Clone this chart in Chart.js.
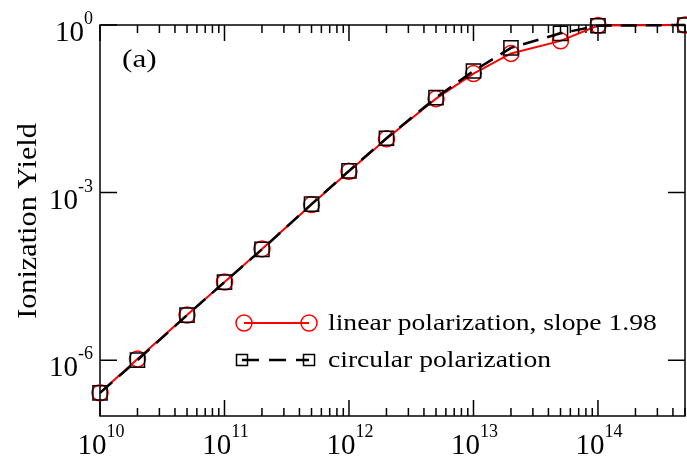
<!DOCTYPE html>
<html>
<head>
<meta charset="utf-8">
<script src="https://cdn.jsdelivr.net/npm/chart.js@4.4.0/dist/chart.umd.min.js"></script>
<style>
  html, body { margin: 0; padding: 0; background: #fff; }
</style>
</head>
<body>
<canvas id="yieldChart" width="687" height="458"></canvas>
<script>
// 雷射強度 (x) 與電離產率 (y)
const intensity = [1e10, 2e10, 5e10, 1e11, 2e11, 5e11, 1e12, 2e12, 5e12, 1e13, 2e13, 5e13, 1e14, 5e14];
const linearYield = [2.6e-7, 1.05e-6, 6.4e-6, 2.5e-5, 9.8e-5, 6.1e-4, 2.4e-3, 9.2e-3, 4.8e-2, 0.135, 0.31, 0.52, 0.98, 1.0];
const circularYield = [2.6e-7, 1.0e-6, 6.4e-6, 2.5e-5, 9.6e-5, 6.2e-4, 2.45e-3, 9.4e-3, 5.0e-2, 0.15, 0.39, 0.71, 0.97, 1.0];

const seriesNames = ['linear polarization, slope 1.98', 'circular polarization'];

// 刻度
const xMajorTicks = [1e10, 1e11, 1e12, 1e13, 1e14];
const xTickExp = ['10', '11', '12', '13', '14'];
const yMajorTicks = [1e0, 1e-3, 1e-6];
const yTickExp = ['0', '-3', '-6'];

const SERIF = '"Liberation Serif", "DejaVu Serif", serif';

// 畫 10^n
function drawPow(ctx, exp, x, y, mode) {
  ctx.font = '29px ' + SERIF;
  const wb = ctx.measureText('10').width;
  ctx.font = '18px ' + SERIF;
  const we = ctx.measureText(exp).width;
  let left;
  if (mode === 'x') left = x - (wb + we) / 2 + 1;
  else left = x - (wb + we);
  ctx.textAlign = 'left';
  ctx.textBaseline = 'alphabetic';
  ctx.font = '29px ' + SERIF;
  ctx.fillText('10', left, y);
  ctx.font = '18px ' + SERIF;
  ctx.fillText(exp, left + wb, y - 17);
}

// 橫向拉寬的文字（原圖字型較寬）
function wideText(ctx, text, x, y, stretch) {
  ctx.save();
  ctx.translate(x, y);
  ctx.scale(stretch, 1);
  ctx.fillText(text, 0, 0);
  ctx.restore();
}

const framePlugin = {
  id: 'frame',
  beforeDatasetsDraw(chart) {
    const ctx = chart.ctx;
    const a = chart.chartArea;
    const xs = chart.scales.x, ys = chart.scales.y;
    ctx.save();
    ctx.strokeStyle = '#000';
    ctx.lineWidth = 1.5;
    ctx.strokeRect(a.left, a.top, a.right - a.left, a.bottom - a.top);

    // x 主刻度與次刻度（上下兩邊，向內）
    ctx.beginPath();
    for (let d = 10; d <= 14; d++) {
      for (let m = 1; m <= 9; m++) {
        const v = m * Math.pow(10, d);
        if (v > xs.max) break;
        const px = xs.getPixelForValue(v);
        const len = m === 1 ? 16 : 8;
        ctx.moveTo(px, a.bottom); ctx.lineTo(px, a.bottom - len);
        ctx.moveTo(px, a.top); ctx.lineTo(px, a.top + len);
      }
    }
    // y 主刻度（左右兩邊）
    yMajorTicks.forEach(v => {
      const py = ys.getPixelForValue(v);
      ctx.moveTo(a.left, py); ctx.lineTo(a.left + 17, py);
      ctx.moveTo(a.right, py); ctx.lineTo(a.right - 17, py);
    });
    ctx.stroke();
    ctx.restore();
  },
  afterDraw(chart) {
    const ctx = chart.ctx;
    const a = chart.chartArea;
    const xs = chart.scales.x, ys = chart.scales.y;
    ctx.save();
    ctx.fillStyle = '#000';

    xMajorTicks.forEach((v, i) => drawPow(ctx, xTickExp[i], xs.getPixelForValue(v), 454, 'x'));
    yMajorTicks.forEach((v, i) => drawPow(ctx, yTickExp[i], a.left - 7, ys.getPixelForValue(v) + 16, 'y'));

    // y 軸標題
    ctx.save();
    ctx.translate(36, 221);
    ctx.rotate(-Math.PI / 2);
    ctx.font = '27px ' + SERIF;
    ctx.textAlign = 'center';
    ctx.textBaseline = 'alphabetic';
    ctx.scale(1.12, 1);
    ctx.fillText('Ionization Yield', 0, 0);
    ctx.restore();

    // (a)
    ctx.font = '26px ' + SERIF;
    ctx.textAlign = 'left';
    wideText(ctx, '(a)', 122, 67, 1.2);

    // 圖例
    const x1 = 244, x2 = 309;
    let y = 323;
    ctx.strokeStyle = '#ff0000';
    ctx.lineWidth = 2;
    ctx.beginPath(); ctx.moveTo(x1, y); ctx.lineTo(x2, y); ctx.stroke();
    ctx.lineWidth = 1.5;
    [x1, x2].forEach(px => { ctx.beginPath(); ctx.arc(px, y, 8, 0, Math.PI * 2); ctx.stroke(); });
    ctx.font = '23px ' + SERIF;
    wideText(ctx, seriesNames[0], 328, y + 7, 1.2);

    y = 360;
    ctx.strokeStyle = '#000';
    ctx.lineWidth = 2.5;
    ctx.setLineDash([17, 10]);
    ctx.beginPath(); ctx.moveTo(x1 - 2, y); ctx.lineTo(x2, y); ctx.stroke();
    ctx.setLineDash([]);
    ctx.lineWidth = 1.5;
    [x1 - 2, x2].forEach(px => ctx.strokeRect(px - 5.5, y - 5.5, 11, 11));
    wideText(ctx, seriesNames[1], 328, y + 7, 1.2);
    ctx.restore();
  }
};

const ctxYield = document.getElementById('yieldChart').getContext('2d');
const yieldChart = new Chart(ctxYield, {
  type: 'line',
  data: {
    datasets: [{
      label: seriesNames[0],
      data: intensity.map((x, i) => ({ x: x, y: linearYield[i] })),
      borderColor: '#ff0000',
      borderWidth: 2,
      pointStyle: 'circle',
      pointRadius: 8,
      pointBorderWidth: 1.5,
      pointBorderColor: '#ff0000',
      pointBackgroundColor: 'rgba(0,0,0,0)',
      tension: 0,
      clip: false,
      order: 1
    }, {
      label: seriesNames[1],
      data: intensity.map((x, i) => ({ x: x, y: circularYield[i] })),
      borderColor: '#000',
      borderWidth: 2.5,
      borderDash: [16, 9],
      pointStyle: 'rect',
      pointRadius: 10,
      pointBorderWidth: 1.5,
      pointBorderColor: '#000',
      pointBackgroundColor: 'rgba(0,0,0,0)',
      tension: 0,
      clip: false,
      order: 0
    }]
  },
  options: {
    responsive: false,
    animation: false,
    layout: { autoPadding: false, padding: { top: 25, right: 2, left: 0, bottom: 0 } },
    scales: {
      x: {
        type: 'logarithmic',
        min: 1e10,
        max: 5e14,
        ticks: { display: false },
        grid: { display: false },
        border: { display: false },
        afterFit: s => { s.height = 42; }
      },
      y: {
        type: 'logarithmic',
        min: 1e-7,
        max: 1,
        ticks: { display: false },
        grid: { display: false },
        border: { display: false },
        afterFit: s => { s.width = 100; }
      }
    },
    plugins: {
      legend: { display: false },
      tooltip: { enabled: false }
    }
  },
  plugins: [framePlugin]
});
</script>
</body>
</html>
